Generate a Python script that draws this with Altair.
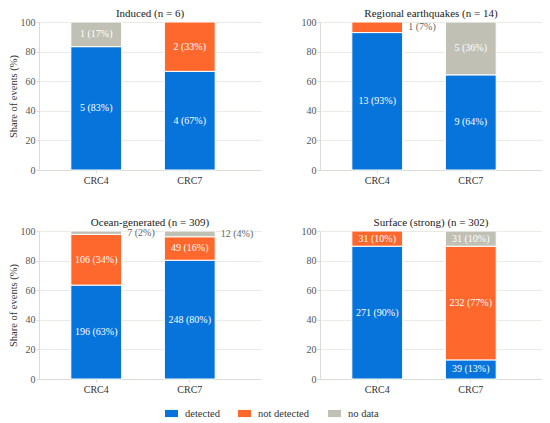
import altair as alt
import pandas as pd

panels = ["Induced (n = 6)", "Regional earthquakes (n = 14)", "Ocean-generated (n = 309)", "Surface (strong) (n = 302)"]
stations = ["CRC4", "CRC7"]
statuses = ["detected", "not detected", "no data"]
colors = ["#0674db", "#ff682c", "#c0c0b5"]
yticks = [0, 20, 40, 60, 80, 100]

# counts[panel][station] = [detected, not detected, no data]
counts = {
    "Induced (n = 6)": {"CRC4": [5, 0, 1], "CRC7": [4, 2, 0]},
    "Regional earthquakes (n = 14)": {"CRC4": [13, 1, 0], "CRC7": [9, 0, 5]},
    "Ocean-generated (n = 309)": {"CRC4": [196, 106, 7], "CRC7": [248, 49, 12]},
    "Surface (strong) (n = 302)": {"CRC4": [271, 31, 0], "CRC7": [39, 232, 31]},
}

rows = []
for p in panels:
    for s in stations:
        vals = counts[p][s]
        tot = sum(vals)
        cum = 0.0
        for k, (st, v) in enumerate(zip(statuses, vals)):
            share = v / tot * 100
            if v > 0:
                rows.append(dict(panel=p, station=s, status=st, order=k, count=v,
                                 y0=cum, y1=cum + share, mid=cum + share / 2,
                                 label=f"{v} ({round(share)}%)", inside=share >= 8))
            cum += share
df = pd.DataFrame(rows)

FONT = "Liberation Serif"

def panel(p, show_ytitle):
    d = df[df.panel == p]
    xenc = alt.X("station:N", title=None,
                 scale=alt.Scale(paddingInner=0.457, paddingOuter=0.415, align=0.41),
                 axis=alt.Axis(labelAngle=0, labelFontSize=10, labelColor="#333", labelFont=FONT,
                               domainColor="#dcdcd4", tickColor="#dcdcd4", tickSize=3, labelPadding=2))
    yscale = alt.Scale(domain=[0, 100], nice=False)
    yaxis = alt.Axis(values=yticks, grid=True, gridColor="#ebebe6",
                     domainColor="#dcdcd4", tickColor="#dcdcd4", tickSize=3, labelOverlap=False,
                     labelFontSize=10, labelColor="#555", labelPadding=1, labelFont=FONT,
                     title="Share of events (%)" if show_ytitle else None, titleFont=FONT,
                     titleFontSize=10.5, titleFontWeight="normal", titleColor="#333", titlePadding=2)
    bars = alt.Chart(d).mark_bar(stroke="white", strokeWidth=1).encode(
        x=xenc,
        y=alt.Y("y0:Q", scale=yscale, axis=yaxis),
        y2="y1:Q",
        color=alt.Color("status:N", scale=alt.Scale(domain=statuses, range=colors),
                        legend=alt.Legend(title=None, orient="none", direction="horizontal",
                                          legendX=126, legendY=385,
                                          symbolType="M-1,-0.55H1V0.55H-1Z",
                                          symbolSize=169, symbolStrokeWidth=0,
                                          labelFont=FONT, labelFontSize=10.5, labelColor="#333",
                                          columnPadding=18, labelOffset=7)),
    )
    tin = alt.Chart(d[d.inside]).mark_text(color="white", fontSize=10, font=FONT).encode(
        x=xenc, y=alt.Y("mid:Q", scale=yscale, axis=yaxis), text="label:N")
    tout = alt.Chart(d[~d.inside]).mark_text(color="#666666", fontSize=10, font=FONT, align="left", dx=31).encode(
        x=xenc, y=alt.Y("mid:Q", scale=yscale, axis=yaxis), text="label:N")
    return alt.layer(bars, tin, tout).properties(
        width=222, height=148,
        title=alt.TitleParams(p, font=FONT, fontSize=11, fontWeight="normal", color="#222",
                              offset=-2, frame="group", anchor="middle"))

top = alt.hconcat(panel(panels[0], True), panel(panels[1], False), spacing=40)
bot = alt.hconcat(panel(panels[2], True), panel(panels[3], False), spacing=40)
chart = (alt.vconcat(top, bot, spacing=32)
         .configure(font=FONT)
         .configure_view(stroke=None)
         .properties(padding={"left": 0, "top": 0, "right": 0, "bottom": 0}))

chart.save("out.html", embed_options={"renderer": "svg", "actions": False})
